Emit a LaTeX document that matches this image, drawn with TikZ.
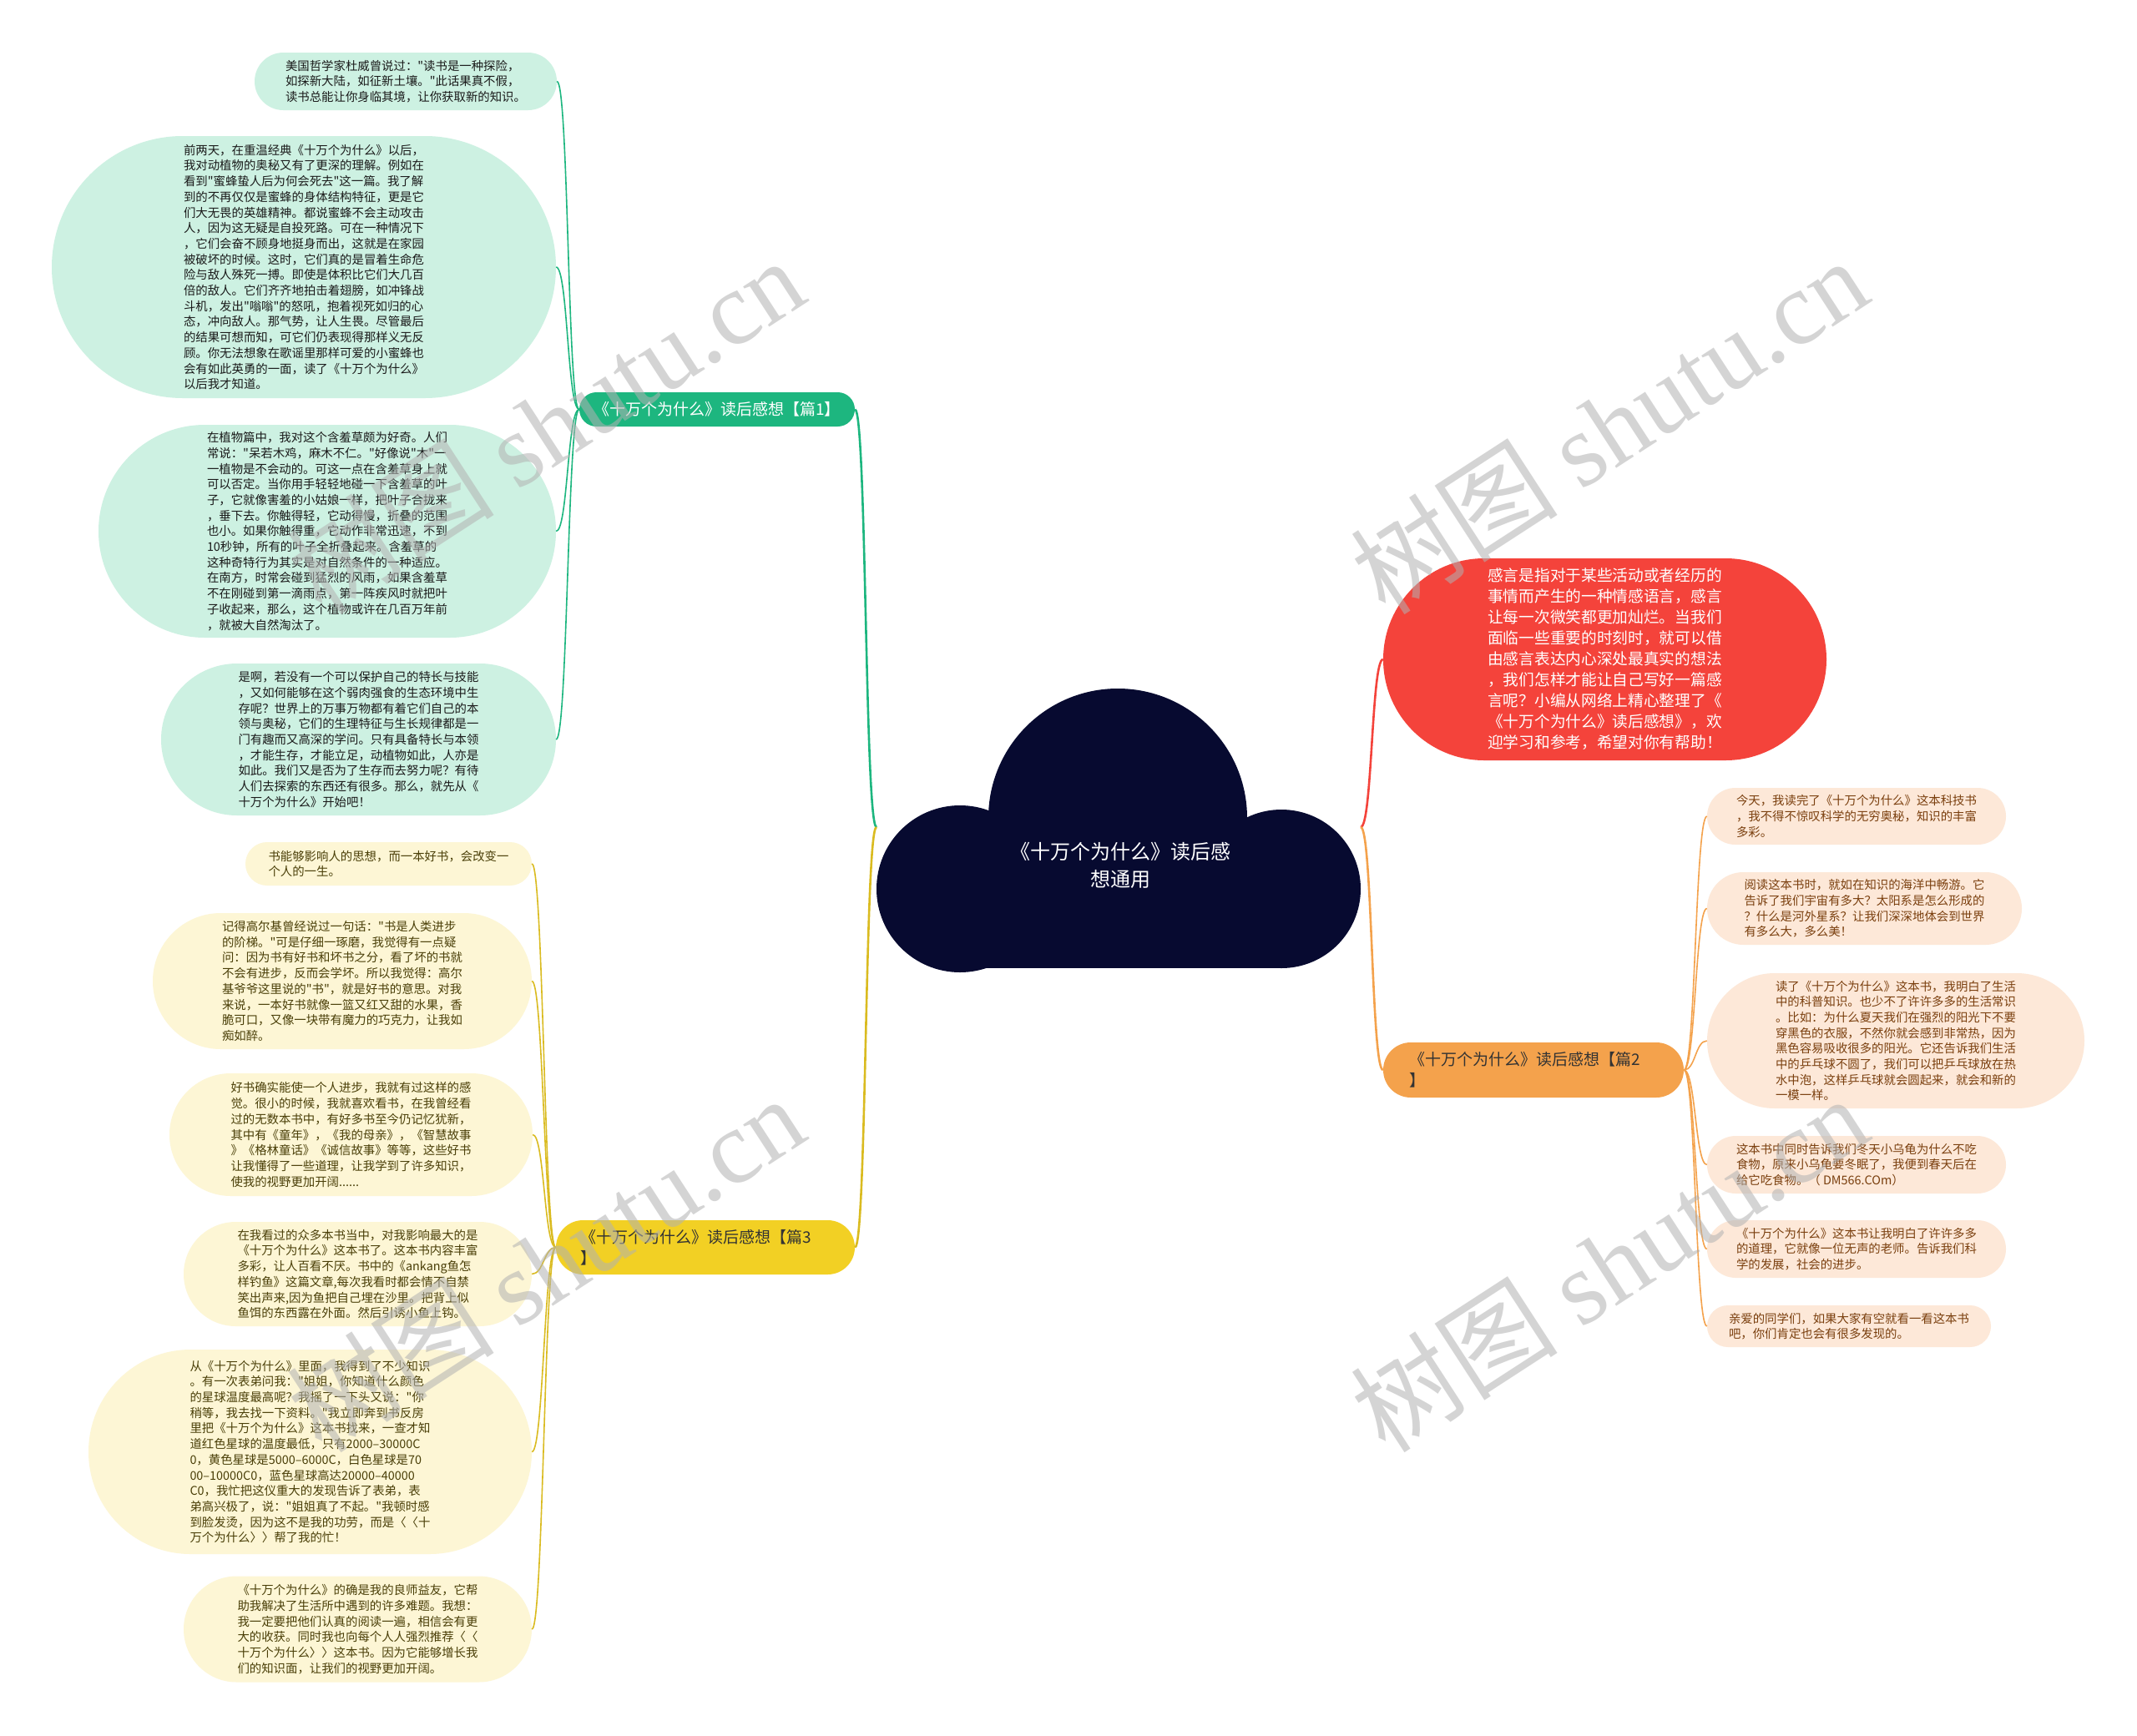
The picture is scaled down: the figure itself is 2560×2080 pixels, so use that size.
\documentclass[tikz,border=0pt]{standalone}
\usepackage{fontspec}
\setmainfont[Ligatures=TeXOff]{Noto Sans CJK SC}
\newfontfamily\wmlatin[Ligatures=TeXOff]{Liberation Serif}
\definecolor{gfill}{HTML}{CDF1E2}
\definecolor{gmain}{HTML}{1DB67F}
\definecolor{yfill}{HTML}{FDF6D5}
\definecolor{ymain}{HTML}{F2D024}
\definecolor{ofill}{HTML}{FDE8D8}
\definecolor{omain}{HTML}{F4A24C}
\definecolor{rmain}{HTML}{F4433B}
\definecolor{cloudc}{HTML}{070A30}
\definecolor{ytext}{HTML}{4A3F08}
\definecolor{otext}{HTML}{7A3F0E}
\definecolor{gtext}{HTML}{1A1A1A}
\tikzset{
  leafbox/.style 2 args={rectangle, rounded corners=#2/2, minimum width=#1, minimum height=#2,
    inner sep=0pt, align=left, font=\fontsize{14.4}{18.7}\selectfont},
  gleaf/.style 2 args={leafbox={#1}{#2}, fill=gfill, text=gtext},
  yleaf/.style 2 args={leafbox={#1}{#2}, fill=yfill, text=ytext},
  oleaf/.style 2 args={leafbox={#1}{#2}, fill=ofill, text=otext},
  lab/.style 2 args={rectangle, rounded corners=#2/2, minimum width=#1, minimum height=#2,
    inner sep=0pt, font=\fontsize{19}{25}\selectfont},
  mainline/.style={line width=2.6pt},
  leafline/.style={line width=1.6pt},
  wm/.style={text=black!30, opacity=0.55, font=\fontsize{125}{125}\selectfont, inner sep=0pt},
}
\begin{document}
\begin{tikzpicture}[x=1pt,y=-1pt]
\useasboundingbox (0,0) rectangle (2560,2080);
\fill[white] (0,0) rectangle (2560,2080);

% cloud
\fill[cloudc] (1339,980) circle (155);
\fill[cloudc] (1150,1065) circle (100);
\fill[cloudc] (1535,1065) circle (95);
\fill[cloudc] (1150,1000) rectangle (1535,1160);
\node[text=white, align=center, font=\fontsize{24}{33}\selectfont] (c) at (1342,1037)
  {《十万个为什么》读后感\\想通用};
\coordinate (cl) at (1050,991);
\coordinate (cr) at (1630,991);

% branch labels
\node[lab={330}{41}, fill=gmain, text=white] (g) at (859,490.5) {《十万个为什么》读后感想【篇1】};
\node[lab={358}{65}, fill=ymain, text=black!80, text width=300, align=left] (y) at (845,1494.5)
  {《十万个为什么》读后感想【篇3\\】};
\node[lab={360}{66}, fill=omain, text=black!80, text width=298, align=left] (o) at (1837,1282)
  {《十万个为什么》读后感想【篇2\\】};
\node[rectangle, rounded corners=121, minimum width=531, minimum height=242, inner sep=0pt,
  fill=rmain, text=white, align=left, font=\fontsize{18.7}{25}\selectfont] (r) at (1922.5,790)
  {感言是指对于某些活动或者经历的\\
   事情而产生的一种情感语言，感言\\
   让每一次微笑都更加灿烂。当我们\\
   面临一些重要的时刻时，就可以借\\
   由感言表达内心深处最真实的想法\\
   ，我们怎样才能让自己写好一篇感\\
   言呢？小编从网络上精心整理了《\\
   《十万个为什么》读后感想》，欢\\
   迎学习和参考，希望对你有帮助！};

% green leaves
\node[gleaf={362}{69}] (g1) at (486,97.5)
  {美国哲学家杜威曾说过："读书是一种探险，\\
   如探新大陆，如征新土壤。"此话果真不假，\\
   读书总能让你身临其境，让你获取新的知识。};
\node[gleaf={604}{314}] (g2) at (364,320)
  {前两天，在重温经典《十万个为什么》以后，\\
   我对动植物的奥秘又有了更深的理解。例如在\\
   看到"蜜蜂蛰人后为何会死去"这一篇。我了解\\
   到的不再仅仅是蜜蜂的身体结构特征，更是它\\
   们大无畏的英雄精神。都说蜜蜂不会主动攻击\\
   人，因为这无疑是自投死路。可在一种情况下\\
   ，它们会奋不顾身地挺身而出，这就是在家园\\
   被破坏的时候。这时，它们真的是冒着生命危\\
   险与敌人殊死一搏。即使是体积比它们大几百\\
   倍的敌人。它们齐齐地拍击着翅膀，如冲锋战\\
   斗机，发出"嗡嗡"的怒吼，抱着视死如归的心\\
   态，冲向敌人。那气势，让人生畏。尽管最后\\
   的结果可想而知，可它们仍表现得那样义无反\\
   顾。你无法想象在歌谣里那样可爱的小蜜蜂也\\
   会有如此英勇的一面，读了《十万个为什么》\\
   以后我才知道。};
\node[gleaf={548}{255}] (g3) at (392,636.5)
  {在植物篇中，我对这个含羞草颇为好奇。人们\\
   常说："呆若木鸡，麻木不仁。"好像说"木"一\\
   一植物是不会动的。可这一点在含羞草身上就\\
   可以否定。当你用手轻轻地碰一下含羞草的叶\\
   子，它就像害羞的小姑娘一样，把叶子合拢来\\
   ，垂下去。你触得轻，它动得慢，折叠的范围\\
   也小。如果你触得重，它动作非常迅速，不到\\
   10秒钟，所有的叶子全折叠起来。含羞草的\\
   这种奇特行为其实是对自然条件的一种适应。\\
   在南方，时常会碰到猛烈的风雨，如果含羞草\\
   不在刚碰到第一滴雨点，第一阵疾风时就把叶\\
   子收起来，那么，这个植物或许在几百万年前\\
   ，就被大自然淘汰了。};
\node[gleaf={473}{182}] (g4) at (429.5,886)
  {是啊，若没有一个可以保护自己的特长与技能\\
   ，又如何能够在这个弱肉强食的生态环境中生\\
   存呢？世界上的万事万物都有着它们自己的本\\
   领与奥秘，它们的生理特征与生长规律都是一\\
   门有趣而又高深的学问。只有具备特长与本领\\
   ，才能生存，才能立足，动植物如此，人亦是\\
   如此。我们又是否为了生存而去努力呢？有待\\
   人们去探索的东西还有很多。那么，就先从《\\
   十万个为什么》开始吧！};

% yellow leaves
\node[yleaf={343}{52}] (y1) at (465.5,1035)
  {书能够影响人的思想，而一本好书，会改变一\\
   个人的一生。};
\node[yleaf={454}{163}] (y2) at (410,1175.5)
  {记得高尔基曾经说过一句话："书是人类进步\\
   的阶梯。"可是仔细一琢磨，我觉得有一点疑\\
   问：因为书有好书和坏书之分，看了坏的书就\\
   不会有进步，反而会学坏。所以我觉得：高尔\\
   基爷爷这里说的"书"，就是好书的意思。对我\\
   来说，一本好书就像一篮又红又甜的水果，香\\
   脆可口，又像一块带有魔力的巧克力，让我如\\
   痴如醉。};
\node[yleaf={435}{147}] (y3) at (420.5,1359.5)
  {好书确实能使一个人进步，我就有过这样的感\\
   觉。很小的时候，我就喜欢看书，在我曾经看\\
   过的无数本书中，有好多书至今仍记忆犹新，\\
   其中有《童年》，《我的母亲》，《智慧故事\\
   》《格林童话》《诚信故事》等等，这些好书\\
   让我懂得了一些道理，让我学到了许多知识，\\
   使我的视野更加开阔......};
\node[yleaf={417}{125}] (y4) at (428.5,1526.5)
  {在我看过的众多本书当中，对我影响最大的是\\
   《十万个为什么》这本书了。这本书内容丰富\\
   多彩，让人百看不厌。书中的《ankang鱼怎\\
   样钓鱼》这篇文章,每次我看时都会情不自禁\\
   笑出声来,因为鱼把自己埋在沙里。把背上似\\
   鱼饵的东西露在外面。然后引诱小鱼上钩。};
\node[yleaf={531}{245}] (y5) at (371.5,1739.5)
  {从《十万个为什么》里面，我得到了不少知识\\
   。有一次表弟问我："姐姐，你知道什么颜色\\
   的星球温度最高呢？我摇了一下头又说："你\\
   稍等，我去找一下资料。"我立即奔到书反房\\
   里把《十万个为什么》这本书找来，一查才知\\
   道红色星球的温度最低，只有2000–30000C\\
   0，黄色星球是5000–6000C，白色星球是70\\
   00–10000C0，蓝色星球高达20000–40000\\
   C0，我忙把这仪重大的发现告诉了表弟，表\\
   弟高兴极了，说："姐姐真了不起。"我顿时感\\
   到脸发烫，因为这不是我的功劳，而是〈〈十\\
   万个为什么〉〉帮了我的忙！};
\node[yleaf={417}{127}] (y6) at (428.5,1952)
  {《十万个为什么》的确是我的良师益友，它帮\\
   助我解决了生活所中遇到的许多难题。我想：\\
   我一定要把他们认真的阅读一遍，相信会有更\\
   大的收获。同时我也向每个人人强烈推荐〈〈\\
   十万个为什么〉〉这本书。因为它能够增长我\\
   们的知识面，让我们的视野更加开阔。};

% orange leaves
\node[oleaf={358}{68}] (o1) at (2224,978)
  {今天，我读完了《十万个为什么》这本科技书\\
   ，我不得不惊叹科学的无穷奥秘，知识的丰富\\
   多彩。};
\node[oleaf={377}{87}] (o2) at (2233.5,1088.5)
  {阅读这本书时，就如在知识的海洋中畅游。它\\
   告诉了我们宇宙有多大？太阳系是怎么形成的\\
   ？什么是河外星系？让我们深深地体会到世界\\
   有多么大，多么美！};
\node[oleaf={452}{162}] (o3) at (2271,1247)
  {读了《十万个为什么》这本书，我明白了生活\\
   中的科普知识。也少不了许许多多的生活常识\\
   。比如：为什么夏天我们在强烈的阳光下不要\\
   穿黑色的衣服，不然你就会感到非常热，因为\\
   黑色容易吸收很多的阳光。它还告诉我们生活\\
   中的乒乓球不圆了，我们可以把乒乓球放在热\\
   水中泡，这样乒乓球就会圆起来，就会和新的\\
   一模一样。};
\node[oleaf={358}{69}] (o4) at (2224,1395.5)
  {这本书中同时告诉我们冬天小乌龟为什么不吃\\
   食物，原来小乌龟要冬眠了，我便到春天后在\\
   给它吃食物。（ DM566.COm）};
\node[oleaf={358}{69}] (o5) at (2224,1496.5)
  {《十万个为什么》这本书让我明白了许许多多\\
   的道理，它就像一位无声的老师。告诉我们科\\
   学的发展，社会的进步。};
\node[oleaf={340}{50}] (o6) at (2215,1589)
  {亲爱的同学们，如果大家有空就看一看这本书\\
   吧，你们肯定也会有很多发现的。};

% main connectors
\draw[mainline, gmain] (cl) .. controls +(-14,0) and +(14,0) .. (g.east);
\draw[mainline, ymain!90!black] (cl) .. controls +(-14,0) and +(14,0) .. (y.east);
\draw[mainline, rmain] (cr) .. controls +(14,0) and +(-14,0) .. (r.west);
\draw[mainline, omain] (cr) .. controls +(14,0) and +(-14,0) .. (o.west);

% leaf connectors
\foreach \n in {g1,g2,g3,g4}
  \draw[leafline, gmain] (g.west) .. controls +(-14,0) and +(14,0) .. (\n.east);
\foreach \n in {y1,y2,y3,y4,y5,y6}
  \draw[leafline, ymain!90!black] (y.west) .. controls +(-14,0) and +(14,0) .. (\n.east);
\foreach \n in {o1,o2,o3,o4,o5,o6}
  \draw[leafline, omain] (o.east) .. controls +(14,0) and +(-14,0) .. (\n.west);

% watermarks
\node[wm, rotate=33] (w1) at (653,510) {树图 {\wmlatin shutu.cn}};
\node[wm, rotate=33] (w2) at (1927,510) {树图 {\wmlatin shutu.cn}};
\node[wm, rotate=33] (w3) at (653,1514) {树图 {\wmlatin shutu.cn}};
\node[wm, rotate=33] (w4) at (1927,1514) {树图 {\wmlatin shutu.cn}};
\end{tikzpicture}
\end{document}
